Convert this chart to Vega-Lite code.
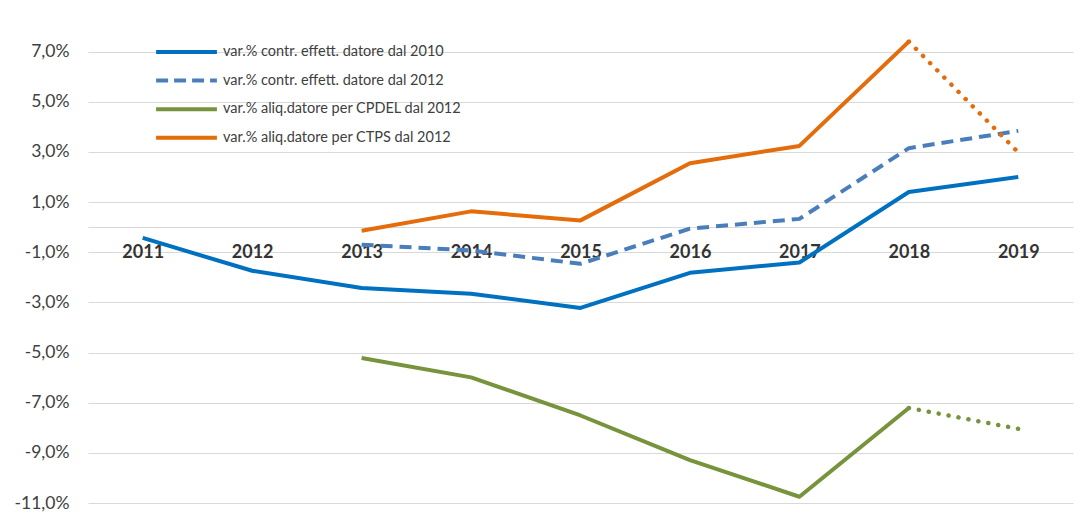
{
  "$schema": "https://vega.github.io/schema/vega-lite/v6.json",
  "width": 985,
  "height": 489,
  "autosize": {"type": "none"},
  "padding": {"left": 88, "top": 14, "right": 10, "bottom": 10},
  "background": "white",
  "config": {
    "view": {"stroke": null},
    "font": "Lato"
  },
  "data": {
    "values": [
      {"anno": 2011, "serie": "var.% contr. effett. datore dal 2010", "valore": -0.43, "tratto": "pieno"},
      {"anno": 2012, "serie": "var.% contr. effett. datore dal 2010", "valore": -1.74, "tratto": "pieno"},
      {"anno": 2013, "serie": "var.% contr. effett. datore dal 2010", "valore": -2.43, "tratto": "pieno"},
      {"anno": 2014, "serie": "var.% contr. effett. datore dal 2010", "valore": -2.66, "tratto": "pieno"},
      {"anno": 2015, "serie": "var.% contr. effett. datore dal 2010", "valore": -3.22, "tratto": "pieno"},
      {"anno": 2016, "serie": "var.% contr. effett. datore dal 2010", "valore": -1.82, "tratto": "pieno"},
      {"anno": 2017, "serie": "var.% contr. effett. datore dal 2010", "valore": -1.41, "tratto": "pieno"},
      {"anno": 2018, "serie": "var.% contr. effett. datore dal 2010", "valore": 1.4, "tratto": "pieno"},
      {"anno": 2019, "serie": "var.% contr. effett. datore dal 2010", "valore": 2.0, "tratto": "pieno"},
      {"anno": 2013, "serie": "var.% contr. effett. datore dal 2012", "valore": -0.7, "tratto": "tratteggio"},
      {"anno": 2014, "serie": "var.% contr. effett. datore dal 2012", "valore": -0.93, "tratto": "tratteggio"},
      {"anno": 2015, "serie": "var.% contr. effett. datore dal 2012", "valore": -1.46, "tratto": "tratteggio"},
      {"anno": 2016, "serie": "var.% contr. effett. datore dal 2012", "valore": -0.06, "tratto": "tratteggio"},
      {"anno": 2017, "serie": "var.% contr. effett. datore dal 2012", "valore": 0.33, "tratto": "tratteggio"},
      {"anno": 2018, "serie": "var.% contr. effett. datore dal 2012", "valore": 3.15, "tratto": "tratteggio"},
      {"anno": 2019, "serie": "var.% contr. effett. datore dal 2012", "valore": 3.84, "tratto": "tratteggio"},
      {"anno": 2013, "serie": "var.% aliq.datore per CPDEL dal 2012", "valore": -5.22, "tratto": "pieno"},
      {"anno": 2014, "serie": "var.% aliq.datore per CPDEL dal 2012", "valore": -5.99, "tratto": "pieno"},
      {"anno": 2015, "serie": "var.% aliq.datore per CPDEL dal 2012", "valore": -7.51, "tratto": "pieno"},
      {"anno": 2016, "serie": "var.% aliq.datore per CPDEL dal 2012", "valore": -9.29, "tratto": "pieno"},
      {"anno": 2017, "serie": "var.% aliq.datore per CPDEL dal 2012", "valore": -10.75, "tratto": "pieno"},
      {"anno": 2018, "serie": "var.% aliq.datore per CPDEL dal 2012", "valore": -7.21, "tratto": "pieno"},
      {"anno": 2018, "serie": "var.% aliq.datore per CPDEL dal 2012", "valore": -7.21, "tratto": "stima"},
      {"anno": 2019, "serie": "var.% aliq.datore per CPDEL dal 2012", "valore": -8.04, "tratto": "stima"},
      {"anno": 2013, "serie": "var.% aliq.datore per CTPS dal 2012", "valore": -0.14, "tratto": "pieno"},
      {"anno": 2014, "serie": "var.% aliq.datore per CTPS dal 2012", "valore": 0.63, "tratto": "pieno"},
      {"anno": 2015, "serie": "var.% aliq.datore per CTPS dal 2012", "valore": 0.27, "tratto": "pieno"},
      {"anno": 2016, "serie": "var.% aliq.datore per CTPS dal 2012", "valore": 2.55, "tratto": "pieno"},
      {"anno": 2017, "serie": "var.% aliq.datore per CTPS dal 2012", "valore": 3.24, "tratto": "pieno"},
      {"anno": 2018, "serie": "var.% aliq.datore per CTPS dal 2012", "valore": 7.4, "tratto": "pieno"},
      {"anno": 2018, "serie": "var.% aliq.datore per CTPS dal 2012", "valore": 7.4, "tratto": "stima"},
      {"anno": 2019, "serie": "var.% aliq.datore per CTPS dal 2012", "valore": 2.98, "tratto": "stima"}
    ]
  },
  "encoding": {
    "x": {
      "field": "anno", "type": "quantitative",
      "scale": {"domain": [2010.5, 2019.5], "nice": false, "zero": false},
      "axis": {
        "title": null, "orient": "bottom", "offset": -251, "values": [2011, 2012, 2013, 2014, 2015, 2016, 2017, 2018, 2019],
        "format": "d", "grid": false, "domain": false, "ticks": false, "tickSize": 0, "labelPadding": 0,
        "labelBaseline": "middle", "labelFontSize": 18, "labelFontWeight": "bold", "labelColor": "#333333", "labelFont": "Lato",
        "zindex": 0
      }
    },
    "y": {
      "field": "valore", "type": "quantitative",
      "scale": {"domain": [-11, 8.5], "nice": false, "zero": false},
      "axis": {
        "title": null, "grid": true, "gridColor": "#D9D9D9", "gridWidth": 1, "domain": false, "ticks": false, "tickSize": 0,
        "values": [7, 5, 3, 1, 0, -1, -3, -5, -7, -9, -11],
        "labelExpr": "datum.value === 0 ? '' : (datum.value < 0 ? '-' : '') + replace(format(abs(datum.value), '.1f'), '.', ',') + '%'",
        "labelAlign": "right", "labelPadding": 19, "labelFontSize": 17.5, "labelColor": "#404040", "labelFont": "Lato"
      }
    },
    "color": {
      "field": "serie", "type": "nominal",
      "scale": {
        "domain": ["var.% contr. effett. datore dal 2010", "var.% contr. effett. datore dal 2012", "var.% aliq.datore per CPDEL dal 2012", "var.% aliq.datore per CTPS dal 2012"],
        "range": ["#0070C0", "#4A7EBB", "#77933C", "#E46C0A"]
      },
      "legend": {
        "title": null, "orient": "none", "legendX": 66, "legendY": 30, "direction": "vertical",
        "symbolType": "stroke", "symbolSize": 3700, "symbolStrokeWidth": 4, "clipHeight": 16, "rowPadding": 12.6,
        "labelOffset": 4, "labelFontSize": 14.5, "labelColor": "#404040", "labelFont": "Lato", "padding": 0, "labelLimit": 400,
        "encode": {
          "symbols": {
            "update": {
              "strokeDash": {"signal": "datum.value === 'var.% contr. effett. datore dal 2012' ? [12, 6] : [1, 0]"}
            }
          }
        }
      }
    }
  },
  "layer": [
    {
      "transform": [{"filter": "datum.tratto === 'pieno'"}],
      "mark": {"type": "line", "strokeWidth": 4, "strokeJoin": "round"}
    },
    {
      "transform": [{"filter": "datum.tratto === 'tratteggio'"}],
      "mark": {"type": "line", "strokeWidth": 4, "strokeJoin": "round", "strokeDash": [12, 7]}
    },
    {
      "transform": [{"filter": "datum.tratto === 'stima'"}],
      "mark": {"type": "line", "strokeWidth": 4.5, "strokeCap": "round", "strokeDash": [0.1, 10]}
    }
  ]
}
